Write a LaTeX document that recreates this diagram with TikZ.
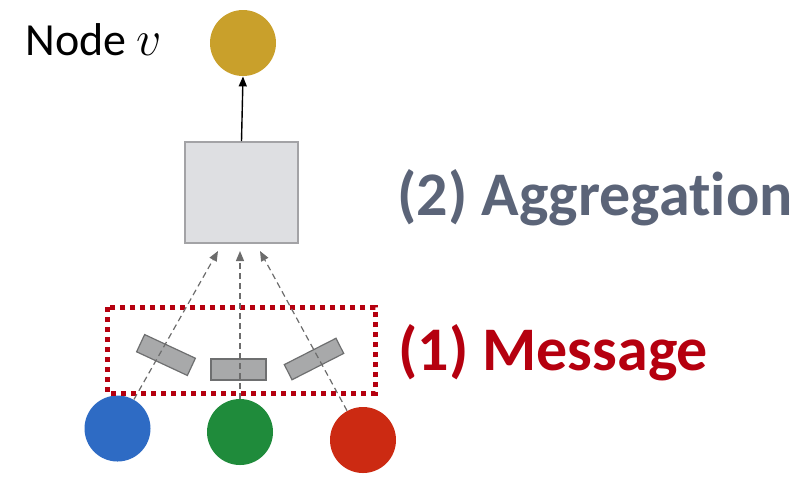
\documentclass[tikz,border=0pt]{standalone}
\usepackage{fontspec}
\setmainfont[Ligatures=NoCommon]{Carlito}
\usetikzlibrary{arrows.meta}
\definecolor{gold}{HTML}{C9A02B}
\definecolor{bluec}{HTML}{2E6BC4}
\definecolor{greenc}{HTML}{1F8B3B}
\definecolor{redc}{HTML}{CC2A12}
\definecolor{aggc}{HTML}{5B6478}
\definecolor{msgc}{HTML}{B5000F}
\definecolor{boxfill}{HTML}{DEDFE2}
\definecolor{boxline}{HTML}{A3A3A6}
\definecolor{msgfill}{HTML}{A8A9AA}
\definecolor{msgline}{HTML}{6E6F70}
\newdimen\px \px=0.5pt
\tikzset{
  dot/.style={circle, minimum size=66\px, inner sep=0pt},
  msgbox/.style={draw=msgline, fill=msgfill, line width=0.6pt, minimum width=56\px, minimum height=19\px, inner sep=0pt},
  conn/.style={draw=gray!85!black, line width=0.6pt, densely dashed, -{Triangle[length=5pt,width=4pt]}},
}
\begin{document}
\begin{tikzpicture}[x=0.5pt,y=-0.5pt]
\useasboundingbox (0,0) rectangle (808,495);
% nodes
\node[dot, fill=gold] (v) at (243,43) {};
\node[anchor=base west, font=\fontsize{23}{27}\selectfont, inner sep=0pt] (lbl) at (25,55) {Node {\fontsize{26}{30}\selectfont$v$}};
\node[draw=boxline, fill=boxfill, line width=0.8pt, minimum width=113\px, minimum height=101\px, inner sep=0pt] (agg) at (241.5,192.5) {};
\node[dot, fill=bluec] (b) at (117.5,428.5) {};
\node[dot, fill=greenc] (g) at (240,432) {};
\node[dot, fill=redc] (r) at (363,440) {};
\node[msgbox, rotate=-25] (m1) at (166,355) {};
\node[msgbox, minimum width=55\px, minimum height=21\px] (m2) at (238.5,369.5) {};
\node[msgbox, rotate=27, minimum width=58\px, minimum height=17\px] (m3) at (314,359) {};
% dotted frame
\draw[msgc, line width=2.5pt, dash pattern=on 2.5pt off 2.5pt] (107,307) rectangle (375,393);
\coordinate (t1) at (218,251);
\coordinate (t2) at (240,251);
\coordinate (t3) at (260,251);
\draw[conn] (b) -- (t1);
\draw[conn] (g) -- (t2);
\draw[conn] (r) -- (t3);
\draw[black, line width=0.7pt, -{Triangle[length=5pt,width=4pt]}] (agg.north) -- (v.south);
% labels
\node[anchor=base west, inner sep=0pt, text=aggc, font=\fontsize{31}{36}\selectfont\bfseries] (aggl) at (397,215) {(2) Aggregat\kern0pt ion};
\node[anchor=base west, inner sep=0pt, text=msgc, font=\fontsize{31}{36}\selectfont\bfseries] (msgl) at (398,370) {(1) Message};
\end{tikzpicture}
\end{document}
